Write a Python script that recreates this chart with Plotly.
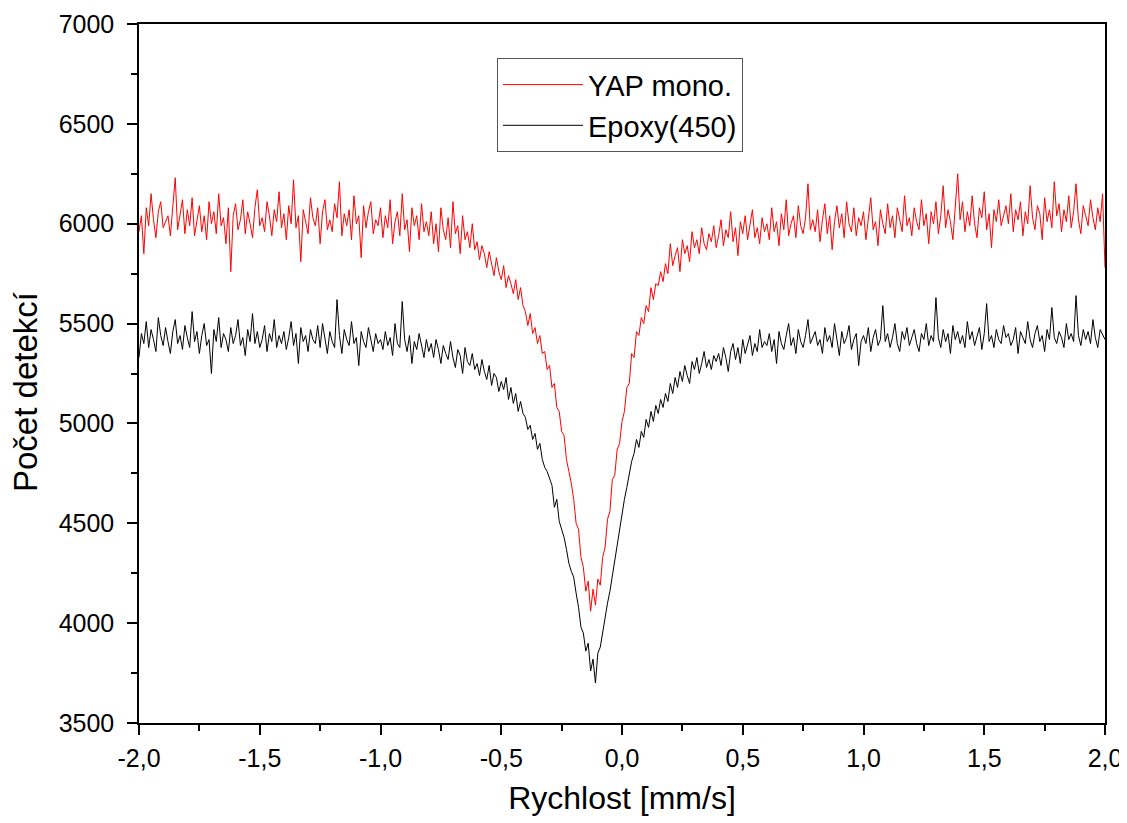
import plotly.graph_objects as go

# velocity axis: -2.00 ... 2.00 mm/s, step 0.01
velocity = [round(-2 + 0.01 * i, 2) for i in range(401)]

yap_mono = [
    5960, 6040, 5850, 6080, 5990, 6150, 6020, 5930, 6060, 6110, 5980, 6010, 6040, 5940, 6090, 6230, 5970, 6050, 6120, 5950,
    6070, 5990, 6130, 5940, 6020, 6090, 5960, 6040, 5920, 6110, 6000, 6060, 5950, 6150, 5990, 6030, 5900, 6080, 5760, 6040,
    6100, 5970, 6020, 6120, 5950, 6060, 6000, 5930, 6080, 6170, 5990, 6030, 5960, 6110, 6040, 5940, 6070, 6010, 6160, 5980,
    6050, 5920, 6090, 6000, 6220, 5980, 6040, 5810, 6070, 6010, 5950, 6130, 6030, 5990, 6080, 5900, 6060, 6120, 5970, 6020,
    5960, 6100, 6030, 6210, 5940, 6050, 5990, 6070, 5920, 6140, 6000, 6040, 5830, 6090, 5980, 6060, 6110, 5950, 6020, 5990,
    6080, 5930, 6040, 5980, 6120, 5900, 6010, 6060, 5940, 6150, 5970, 6020, 5860, 6080, 5990, 6040, 5920, 6100, 5960, 6010,
    5940, 6060, 5900, 6000, 5860, 6080, 5970, 5920, 6030, 5880, 6110, 5950, 5990, 5850, 6040, 5920, 5960, 5880, 6000, 5870,
    5910, 5820, 5890, 5850, 5780, 5860, 5800, 5740, 5830, 5760, 5720, 5790, 5680, 5740, 5700, 5650, 5720, 5620, 5680, 5590,
    5560, 5490, 5550, 5450, 5480, 5400, 5440, 5350, 5360, 5270, 5290, 5180, 5200, 5080, 5060, 4960, 4940, 4820, 4760, 4700,
    4620, 4500, 4470, 4330, 4280, 4160, 4210, 4060, 4170, 4090, 4220, 4190, 4330, 4380, 4520, 4560, 4720, 4740, 4870, 4900,
    5010, 5060, 5180, 5200, 5350, 5330, 5460, 5440, 5530, 5500, 5590, 5560, 5680, 5620, 5700, 5690, 5760, 5710, 5800, 5750,
    5900, 5790, 5840, 5880, 5760, 5920, 5850, 5890, 5810, 5960, 5880, 5920, 5850, 5980, 5900, 5870, 5950, 5910, 5990, 5880,
    5940, 6020, 5890, 5970, 5930, 6060, 5910, 5980, 5840, 6010, 5950, 6040, 5920, 5990, 6070, 5930, 5980, 5900, 6030, 5960,
    6000, 5920, 6080, 5960, 6010, 5890, 6050, 5970, 6120, 5940, 6000, 6040, 5930, 6090, 5990, 5950, 6030, 6200, 5970, 6020,
    5960, 6070, 5910, 6020, 6100, 5950, 6040, 5870, 6010, 6090, 5980, 6050, 5930, 6110, 6000, 5960, 6080, 5940, 6030, 5990,
    6060, 5920, 6040, 6130, 5970, 6010, 5890, 6070, 6000, 5950, 6100, 5980, 6040, 5930, 6080, 6020, 5960, 6140, 5990, 6030,
    5940, 6080, 6010, 5970, 6120, 5990, 6050, 5900, 6060, 6000, 6110, 5950, 6040, 6190, 5980, 6070, 6010, 5920, 6090, 6250,
    6020, 6110, 5960, 6060, 5990, 6140, 6000, 5930, 6080, 6030, 6160, 5970, 6050, 5880, 6070, 6010, 6120, 5990, 6040, 6090,
    6000, 6150, 5960, 6070, 6020, 6110, 5940, 6060, 6000, 6190, 6030, 5970, 6090, 6050, 5920, 6130, 6010, 6070, 5980, 6210,
    6040, 6100, 5960, 6070, 6010, 6140, 5980, 6060, 6200, 6020, 5950, 6090, 6040, 5990, 6120, 6030, 5970, 6080, 6010, 6150,
    5780,
]

epoxy_450 = [
    5330, 5450, 5400, 5510, 5380, 5470, 5420, 5360, 5530, 5440, 5390, 5480, 5410, 5350, 5460, 5520, 5400, 5440, 5370, 5490,
    5430, 5380, 5560, 5410, 5460, 5350, 5440, 5500, 5390, 5420, 5250, 5470, 5410, 5530, 5380, 5450, 5420, 5360, 5480, 5400,
    5440, 5520, 5390, 5430, 5340, 5470, 5410, 5550, 5400, 5460, 5380, 5420, 5490, 5360, 5450, 5410, 5520, 5380, 5440, 5400,
    5460, 5370, 5430, 5510, 5390, 5450, 5300, 5480, 5410, 5440, 5360, 5470, 5420, 5400, 5490, 5380, 5500, 5430, 5350, 5460,
    5410, 5380, 5620, 5440, 5350, 5470, 5420, 5390, 5510, 5400, 5430, 5290, 5460, 5410, 5380, 5480, 5420, 5360, 5450, 5400,
    5420, 5370, 5460, 5390, 5430, 5340, 5500, 5400, 5380, 5610, 5420, 5360, 5440, 5300, 5410, 5370, 5450, 5390, 5330, 5420,
    5360, 5400, 5330, 5420, 5370, 5300, 5390, 5350, 5320, 5410, 5330, 5280, 5370, 5340, 5250, 5380, 5310, 5290, 5350, 5270,
    5300, 5240, 5320, 5260, 5220, 5290, 5190, 5250, 5230, 5160, 5210, 5170, 5230, 5120, 5180, 5100, 5150, 5060, 5110, 5050,
    5030, 4970, 4990, 4920, 4950, 4870, 4900, 4820, 4780, 4760, 4720, 4690, 4580, 4620, 4510, 4470, 4430, 4370, 4300, 4260,
    4230, 4150, 4080, 3980, 3950, 3860, 3900, 3760, 3820, 3700, 3850, 3880, 3960, 4020, 4100, 4160, 4240, 4300, 4400, 4460,
    4560, 4620, 4680, 4740, 4810, 4850, 4920, 4880, 4960, 4930, 5020, 4980, 5060, 5010, 5090, 5050, 5120, 5080, 5150, 5110,
    5200, 5150, 5230, 5180, 5260, 5210, 5290, 5240, 5200, 5310, 5270, 5330, 5250, 5300, 5360, 5280, 5320, 5270, 5340, 5310,
    5350, 5290, 5380, 5330, 5260, 5360, 5400, 5320, 5380, 5300, 5420, 5350, 5390, 5440, 5340, 5400, 5360, 5470, 5380, 5410,
    5390, 5450, 5360, 5420, 5300, 5460, 5400, 5370, 5440, 5500, 5390, 5430, 5350, 5470, 5410, 5380, 5440, 5520, 5400, 5430,
    5460, 5390, 5420, 5350, 5480, 5410, 5440, 5380, 5500, 5420, 5340, 5460, 5400, 5430, 5490, 5370, 5420, 5450, 5290, 5410,
    5440, 5400, 5480, 5360, 5430, 5470, 5390, 5420, 5590, 5410, 5450, 5380, 5430, 5500, 5400, 5360, 5460, 5420, 5480, 5390,
    5430, 5470, 5400, 5360, 5450, 5420, 5500, 5390, 5440, 5410, 5630, 5430, 5380, 5470, 5410, 5450, 5350, 5490, 5420, 5460,
    5400, 5440, 5380, 5510, 5420, 5460, 5390, 5430, 5480, 5370, 5450, 5600, 5410, 5440, 5380, 5470, 5420, 5400, 5490, 5430,
    5450, 5390, 5420, 5480, 5350, 5460, 5430, 5400, 5510, 5420, 5380, 5450, 5490, 5410, 5440, 5360, 5470, 5420, 5580, 5430,
    5400, 5460, 5430, 5380, 5500, 5420, 5450, 5410, 5640, 5440, 5390, 5470, 5420, 5460, 5400, 5520, 5430, 5380, 5470, 5440,
    5420,
]

x_tickvals = [-2.0, -1.5, -1.0, -0.5, 0.0, 0.5, 1.0, 1.5, 2.0]
x_ticktext = ["-2,0", "-1,5", "-1,0", "-0,5", "0,0", "0,5", "1,0", "1,5", "2,0"]
y_tickvals = [3500, 4000, 4500, 5000, 5500, 6000, 6500, 7000]

font_family = "Liberation Sans, Arial, sans-serif"

fig = go.Figure()

fig.add_trace(go.Scatter(x=velocity, y=yap_mono, mode="lines", name="YAP mono.",
                         line=dict(color="#ff0000", width=1)))
fig.add_trace(go.Scatter(x=velocity, y=epoxy_450, mode="lines", name="Epoxy(450)",
                         line=dict(color="#000000", width=1)))

axis_common = dict(
    showline=True, linecolor="black", linewidth=1.5, mirror=True,
    ticks="outside", ticklen=10, tickwidth=1.5, tickcolor="black",
    showgrid=False, zeroline=False, automargin=False,
    tickfont=dict(family=font_family, size=25, color="black"),
)

fig.update_xaxes(
    range=[-2, 2], tickmode="array", tickvals=x_tickvals, ticktext=x_ticktext,
    minor=dict(dtick=0.25, ticks="outside", ticklen=6, tickwidth=1.5, tickcolor="black", showgrid=False),
    title=dict(text="Rychlost [mm/s]", font=dict(family=font_family, size=32, color="black"), standoff=16),
    ticklabelstandoff=2,
    **axis_common,
)
fig.update_yaxes(
    range=[3500, 7000], tickmode="array", tickvals=y_tickvals,
    minor=dict(dtick=250, ticks="outside", ticklen=6, tickwidth=1.5, tickcolor="black", showgrid=False),
    ticklabelstandoff=8,
    **axis_common,
)

# y title sits a bit below the plot centre in the original
fig.add_annotation(
    text="Počet detekcí", textangle=-90,
    xref="paper", yref="paper", x=0, y=0.4735,
    xanchor="center", yanchor="middle", xshift=-114, showarrow=False,
    font=dict(family=font_family, size=33, color="black"),
)

# the page body adds an 8px offset, so margins are shifted by 8px
fig.update_layout(
    width=1127, height=815,
    margin=dict(l=131, r=30, t=16, b=100),
    plot_bgcolor="white", paper_bgcolor="white",
    showlegend=True,
    legend=dict(
        x=0.3706, y=0.951, xanchor="left", yanchor="top",
        bgcolor="white", bordercolor="#555555", borderwidth=1,
        font=dict(family=font_family, size=29, color="black"),
        tracegroupgap=0, itemwidth=80,
    ),
)

fig.write_html("out.html")
